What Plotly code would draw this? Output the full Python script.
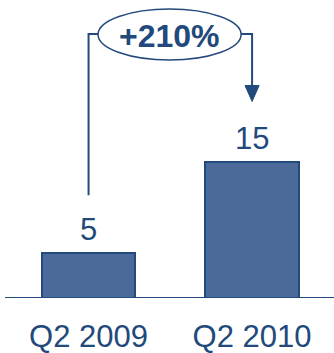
import plotly.graph_objects as go

# Chart data
categories = ["Q2 2009", "Q2 2010"]
values = [5, 15]
value_labels = ["5", "15"]
growth_label = "+210%"

FILL = "#4B6A9A"
EDGE = "#234A7D"
TEXT = "#22497B"
FONT = "Liberation Sans, Arial, sans-serif"

x_idx = [0, 1]

fig = go.Figure()
fig.add_trace(go.Bar(
    x=x_idx, y=values, width=0.57,
    marker=dict(color=FILL, line=dict(color=EDGE, width=2)),
    hoverinfo="skip",
))

# value labels above bars
for xi, v, lab in zip(x_idx, values, value_labels):
    fig.add_annotation(x=xi, y=v, text=lab, showarrow=False, yanchor="bottom",
                       yshift=4, font=dict(family=FONT, size=31, color=TEXT))

# growth connector: line up from first bar, across, arrow down to second bar
top_y = 29.0
left_start = values[0] + 6.3
tip_y = values[1] + 6.6
head_len = 1.75
head_half = 0.043
ell_x0, ell_x1 = 0.058, 0.933
ell_y0, ell_y1 = 26.15, 31.76

fig.add_shape(type="path", xref="x", yref="y",
              path=f"M 0 {left_start} L 0 {top_y} L {ell_x0} {top_y}",
              line=dict(color=EDGE, width=2))
fig.add_shape(type="path", xref="x", yref="y",
              path=f"M {ell_x1} {top_y} L 1 {top_y} L 1 {tip_y + head_len}",
              line=dict(color=EDGE, width=2))
fig.add_shape(type="path", xref="x", yref="y",
              path=(f"M {1 - head_half} {tip_y + head_len} L {1 + head_half} {tip_y + head_len} "
                    f"L 1 {tip_y} Z"),
              fillcolor=EDGE, line=dict(color=EDGE, width=1))
fig.add_shape(type="circle", xref="x", yref="y",
              x0=ell_x0, x1=ell_x1, y0=ell_y0, y1=ell_y1,
              line=dict(color=EDGE, width=1.5), fillcolor="white")
fig.add_annotation(x=(ell_x0 + ell_x1) / 2, y=(ell_y0 + ell_y1) / 2, text=f"<b>{growth_label}</b>",
                   showarrow=False, yshift=-1,
                   font=dict(family=FONT, size=32, color=TEXT))

fig.update_layout(
    width=334, height=353,
    margin=dict(l=5, r=0, t=0, b=55),
    paper_bgcolor="white", plot_bgcolor="white",
    showlegend=False,
    bargap=0,
    xaxis=dict(range=[-0.511, 1.501], tickvals=x_idx, ticktext=categories,
               showgrid=False, zeroline=False, showline=False, ticks="",
               ticklabelstandoff=17, automargin=False,
               tickfont=dict(family=FONT, size=31, color=TEXT)),
    yaxis=dict(range=[0, 32.75], visible=False, showgrid=False, zeroline=False),
)
# baseline
fig.add_shape(type="line", xref="paper", yref="y", x0=0, x1=1, y0=0, y1=0,
              line=dict(color=EDGE, width=2))

fig.write_html("out.html")
